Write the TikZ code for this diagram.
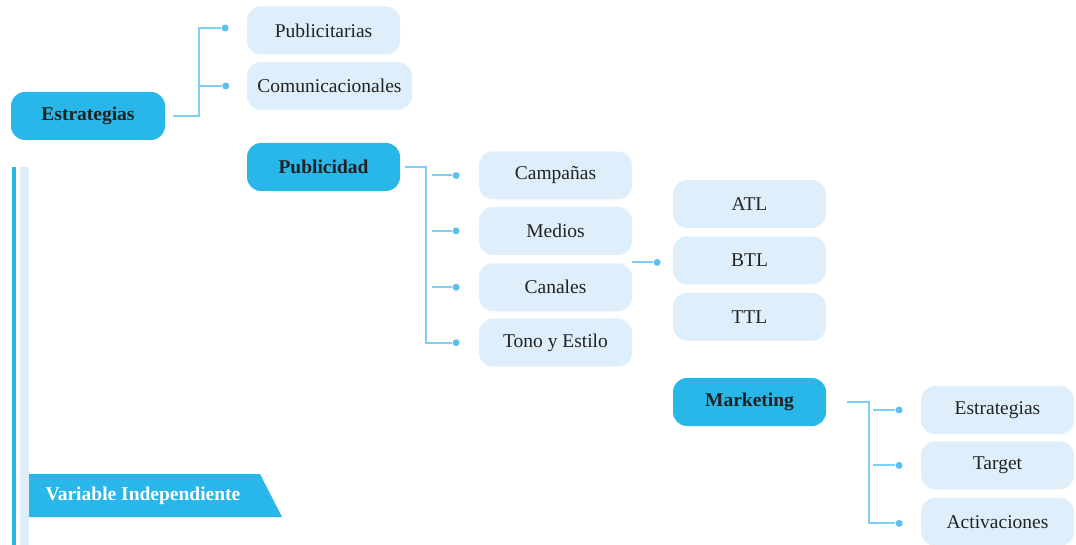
\documentclass[tikz,border=0pt]{standalone}
\usepackage{fontspec}
\setmainfont{Liberation Serif}
\usepackage{xcolor}
\usetikzlibrary{
  calc,
  positioning
}
\definecolor{mapblue}{RGB}{41,182,232}
\definecolor{mappale}{RGB}{222,239,251}
\definecolor{mapline}{RGB}{125,208,243}
\definecolor{mapdot}{RGB}{92,192,236}
\definecolor{maptext}{RGB}{34,34,34}
\tikzset{
  mapa/.style={ font=\fontsize{19.5}{21}\selectfont, text=maptext },
  topic/.style={
    rounded corners=14pt,
    fill=mapblue,
    minimum width=154pt,
    minimum height=48pt,
    inner sep=0pt,
    font=\bfseries\fontsize{19.5}{21}\selectfont
  },
  subtopic/.style={
    rounded corners=14pt,
    fill=mappale,
    minimum width=153pt,
    minimum height=48pt,
    inner sep=0pt
  },
  branch/.style={
    draw=mapline,
    line width=2pt
  },
  tipdot/.style={
    circle,
    fill=mapdot,
    inner sep=0pt,
    minimum size=7pt
  }
}

\begin{document}
\begin{tikzpicture}[mapa, x=1pt, y=-1pt]
  \useasboundingbox (0,0) rectangle (1076,545);

  % side bars and banner
  \fill[mapblue] (12,167) rectangle (16,545);
  \fill[mappale] (20,167) rectangle (29,545);
  \fill[mapblue] (29,474) -- (260,474) -- (282,517) -- (29,517) -- cycle;
  \node[anchor=west, text=white, font=\bfseries\fontsize{19.5}{21}\selectfont]
    (variable) at (42,495.5) {Variable Independiente};

  % first level
  \node[topic] (estrategias) at (88,116) {Estrategias};
  \node[subtopic] (publicitarias) at (323.5,30.5) {Publicitarias};
  \node[subtopic, minimum width=165pt] (comunicacionales) at (329.5,86) {Comunicacionales};
  \node[topic, minimum width=153pt] (publicidad) at (323.5,167) {Publicidad};

  % publicidad
  \node[subtopic] (campanas) at (555.5,175.5) {Campañas};
  \node[subtopic, below=7pt of campanas] (medios) {Medios};
  \node[subtopic, below=8pt of medios] (canales) {Canales};
  \node[subtopic, below=7pt of canales] (tono) {Tono y Estilo};

  \node[subtopic] (atl) at (749.5,204) {ATL};
  \node[subtopic, below=8pt of atl] (btl) {BTL};
  \node[subtopic, below=8pt of btl] (ttl) {TTL};

  % marketing
  \node[topic, minimum width=153pt] (marketing) at (749.5,402) {Marketing};
  \node[subtopic] (mestrategias) at (997.5,410) {Estrategias};
  \node[subtopic, below=7pt of mestrategias] (target) {Target};
  \node[subtopic, below=8pt of target] (activaciones) {Activaciones};

  % dots
  \node[tipdot, left=18pt of publicitarias, yshift=2.5pt] (dotPub) {};
  \node[tipdot] (dotCom) at ([xshift=-21pt]publicitarias.west |- comunicacionales) {};
  \node[tipdot, left=19pt of campanas] (dotCamp) {};
  \node[tipdot, left=19pt of medios] (dotMed) {};
  \node[tipdot, left=19pt of canales] (dotCan) {};
  \node[tipdot, left=19pt of tono] (dotTono) {};
  \node[tipdot, left=12pt of btl, yshift=-2pt] (dotBtl) {};
  \node[tipdot, left=18pt of mestrategias] (dotMEst) {};
  \node[tipdot, left=18pt of target] (dotTarget) {};
  \node[tipdot, left=18pt of activaciones, yshift=-1.5pt] (dotAct) {};

  % connectors
  \coordinate (ejeA) at ([xshift=34pt]estrategias.east);
  \draw[branch] ([xshift=8pt]estrategias.east) -- (ejeA) |- (dotPub);
  \draw[branch] (ejeA) |- (dotCom);

  \coordinate (ejeB) at ([xshift=26pt]publicidad.east);
  \draw[branch] ([xshift=5pt]publicidad.east) -- (ejeB) |- (dotTono);
  \foreach \d in {dotCamp,dotMed,dotCan}
    \draw[branch] ([xshift=6pt]ejeB |- \d) -- (\d);

  \draw[branch] (medios.south east |- dotBtl) -- (dotBtl);

  \coordinate (ejeC) at ([xshift=43pt]marketing.east);
  \draw[branch] ([xshift=21pt]marketing.east) -- (ejeC) |- (dotAct);
  \foreach \d in {dotMEst,dotTarget}
    \draw[branch] ([xshift=4pt]ejeC |- \d) -- (\d);
\end{tikzpicture}
\end{document}
